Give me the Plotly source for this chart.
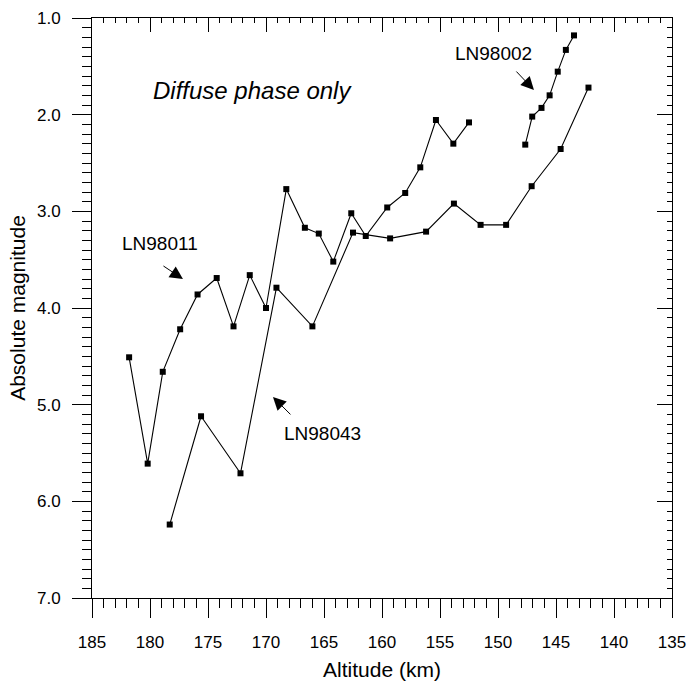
import plotly.graph_objects as go

# LN98011
alt_ln98011 = [181.8, 180.2, 178.9, 177.4, 175.9, 174.25, 172.8, 171.4, 170.0, 168.25,
               166.65, 165.45, 164.2, 162.65, 161.4, 159.55, 158.0, 156.7, 155.35, 153.85, 152.5]
mag_ln98011 = [4.51, 5.61, 4.66, 4.22, 3.86, 3.69, 4.19, 3.66, 4.00, 2.77,
               3.17, 3.23, 3.52, 3.02, 3.255, 2.96, 2.81, 2.545, 2.055, 2.30, 2.08]

# LN98043
alt_ln98043 = [178.3, 175.6, 172.2, 169.1, 166.0, 162.5, 159.3, 156.2, 153.8, 151.5,
               149.3, 147.1, 144.6, 142.2]
mag_ln98043 = [6.24, 5.12, 5.71, 3.79, 4.19, 3.22, 3.28, 3.21, 2.92, 3.14,
               3.14, 2.74, 2.355, 1.72]

# LN98002
alt_ln98002 = [147.65, 147.05, 146.25, 145.55, 144.85, 144.15, 143.45]
mag_ln98002 = [2.31, 2.02, 1.93, 1.80, 1.555, 1.33, 1.18]

x_ticks = [185, 180, 175, 170, 165, 160, 155, 150, 145, 140, 135]
y_ticks = [1.0, 2.0, 3.0, 4.0, 5.0, 6.0, 7.0]

FONT = "Liberation Sans, Arial, sans-serif"

fig = go.Figure()
for name, xs, ys in [("LN98011", alt_ln98011, mag_ln98011),
                     ("LN98043", alt_ln98043, mag_ln98043),
                     ("LN98002", alt_ln98002, mag_ln98002)]:
    fig.add_trace(go.Scatter(x=xs, y=ys, mode="lines+markers", name=name,
                             line=dict(color="black", width=1.1),
                             marker=dict(symbol="square", size=6, color="black")))

# invisible trace for mirrored axes
fig.add_trace(go.Scatter(x=[None], y=[None], xaxis="x2", yaxis="y2",
                         showlegend=False, hoverinfo="skip"))

xr = [185, 135]
yr = [7.0, 1.0]

fig.update_layout(
    width=692, height=681,
    margin=dict(l=92, r=20, t=18, b=83),
    paper_bgcolor="white", plot_bgcolor="white",
    showlegend=False,
    font=dict(family=FONT, color="black", size=17),
    xaxis=dict(range=xr, tickvals=x_ticks, ticks="outside", ticklen=19, tickwidth=1,
               tickcolor="black", showline=True, linecolor="black", linewidth=1,
               showgrid=False, zeroline=False, automargin=False,
               minor=dict(dtick=1, ticks="outside", ticklen=9, tickcolor="black", tickwidth=1,
                          showgrid=False),
               tickfont=dict(size=17), ticklabelstandoff=10,
               title=dict(text="Altitude (km)", font=dict(size=21), standoff=14)),
    yaxis=dict(range=yr, tickvals=y_ticks, tickformat=".1f", ticks="outside", ticklen=19,
               tickwidth=1, tickcolor="black", showline=True, linecolor="black", linewidth=1,
               showgrid=False, zeroline=False, automargin=False,
               minor=dict(dtick=0.1, ticks="outside", ticklen=9, tickcolor="black", tickwidth=1,
                          showgrid=False),
               tickfont=dict(size=17), ticklabelstandoff=8,
               title=dict(text="Absolute magnitude", font=dict(size=21), standoff=5)),
    xaxis2=dict(range=xr, overlaying="x", side="top", anchor="y2", tickvals=x_ticks,
                ticks="inside", ticklen=14, tickwidth=1, tickcolor="black", automargin=False,
                showline=True, linecolor="black", linewidth=1, showticklabels=False,
                showgrid=False, zeroline=False,
                minor=dict(dtick=1, ticks="inside", ticklen=5, tickcolor="black", tickwidth=1,
                           showgrid=False)),
    yaxis2=dict(range=yr, overlaying="y", side="right", anchor="x2", tickvals=y_ticks,
                ticks="inside", ticklen=15, tickwidth=1, tickcolor="black", automargin=False,
                showline=True, linecolor="black", linewidth=1, showticklabels=False,
                showgrid=False, zeroline=False,
                minor=dict(dtick=0.1, ticks="inside", ticklen=5, tickcolor="black", tickwidth=1,
                           showgrid=False)),
)

ann_font = dict(family=FONT, size=19, color="black")
# text labels
fig.add_annotation(x=171.16, y=1.755, text="<i>Diffuse phase only</i>", showarrow=False,
                   font=dict(family=FONT, size=24, color="black"))
fig.add_annotation(x=179.14, y=3.33, text="LN98011", showarrow=False, font=ann_font)
fig.add_annotation(x=150.43, y=1.37, text="LN98002", showarrow=False, font=ann_font)
fig.add_annotation(x=165.09, y=5.30, text="LN98043", showarrow=False, font=ann_font)

# arrows
for hx, hy, ax, ay in [(177.16, 3.70, -21, -14), (146.9, 1.745, -19, -20), (169.4, 4.92, 19, 19)]:
    fig.add_annotation(x=hx, y=hy, ax=ax, ay=ay, text="", showarrow=True,
                       arrowhead=2, arrowsize=2.6, arrowwidth=1, arrowcolor="black",
                       standoff=0)

fig.write_html("out.html")
